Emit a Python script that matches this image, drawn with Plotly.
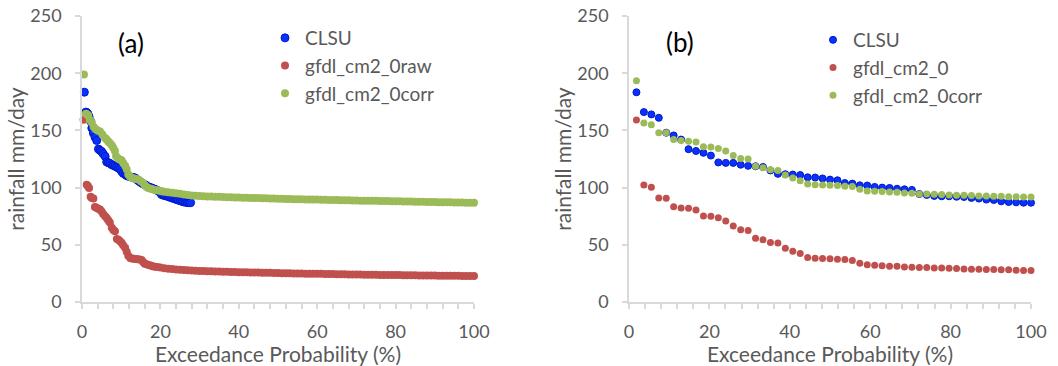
import plotly.graph_objects as go

# ---------------- Panel (a) data ----------------
a_clsu_x = [0.6, 1.0, 1.2, 1.5, 1.8, 2.2, 2.5, 2.9, 3.3, 3.75, 4.2, 4.6, 5.0, 5.4, 5.9, 6.3, 6.7, 7.1,
            7.6, 8.0, 8.4, 8.9, 9.3, 9.7, 10.1, 10.5, 11.0, 11.4, 11.8, 12.3, 12.7, 13.1, 13.5, 14.0,
            14.4, 14.8, 15.2, 15.6, 16.1, 16.5, 17.0, 17.4, 17.8, 18.2, 18.6, 19.0, 19.5, 20.0, 20.3,
            20.8, 21.2, 21.7, 22.1, 22.5, 22.9, 23.4, 23.8, 24.2, 24.6, 25.1, 25.5, 25.9, 26.4, 26.8,
            27.2, 27.7]
a_clsu_y = [183.4, 166, 165.6, 164.5, 162, 158, 152, 147.7, 144.2, 141.2, 133.7, 132.5, 131.6, 129.5,
            127.3, 122.5, 121.8, 121.2, 120, 119.5, 118.6, 118, 117, 116, 114.2, 112.5, 111.5, 110.5,
            110, 109.5, 109, 108.8, 108.5, 107, 106, 105, 104.1, 103.2, 102.5, 101.5, 100.5, 100,
            99.7, 99, 98.5, 97.8, 97, 95.5, 93.9, 93.3, 92.9, 92.5, 92, 91.5, 91, 90.5, 90, 89.5,
            89, 88.5, 88, 87.5, 87.2, 87, 86.9, 86.8]

a_raw_x = [0.4, 1.2, 1.5, 1.8, 2.2, 2.5, 2.9, 3.3, 3.7, 4.1, 4.6, 5.0, 5.4, 5.9, 6.3, 6.7, 7.1, 7.6,
           8.0, 8.4, 8.9, 9.3, 9.7, 10.1, 10.5, 11.0, 11.4, 11.8, 12.3, 12.7, 13.2, 13.7, 14.2, 14.7,
           15.2, 15.6, 16.0, 16.5, 17.0, 17.5, 18.0, 18.6, 19.2, 20, 21, 22, 23, 24, 25, 26, 27, 28,
           29, 30, 31, 32, 33, 34, 35, 36, 37, 38, 39, 40, 41, 42, 43, 44, 45, 46, 47, 48, 49, 50,
           51, 52, 53, 54, 55, 56, 57, 58, 59, 60, 61, 62, 63, 64, 65, 66, 67, 68, 69, 70, 71, 72,
           73, 74, 75, 76, 77, 78, 79, 80, 81, 82, 83, 84, 85, 86, 87, 88, 89, 90, 91, 92, 93, 94,
           95, 96, 97, 98, 99, 100]
a_raw_y = [159.3, 102.6, 101.5, 99.7, 92, 91, 90.5, 83, 82.3, 81.5, 80.8, 79, 77, 75, 73.5, 71.5,
           69.5, 64.9, 63, 61.9, 55, 54.5, 53, 51.8, 49.5, 47.4, 44, 40.5, 38.5, 38, 37.8, 37.6,
           37.4, 37.2, 36.8, 35, 33.5, 32.9, 32.3, 31.8, 31.3, 30.9, 30.6, 30.1, 29.6, 29.1, 28.8,
           28.4, 28.1, 27.9, 27.7, 27.5,
           27.4, 27.2, 27.0, 26.9, 26.8, 26.7, 26.6, 26.5, 26.4, 26.3, 26.2, 26.1, 26.0, 25.9, 25.8,
           25.8, 25.7, 25.6, 25.5, 25.5, 25.4, 25.3, 25.2, 25.2, 25.1, 25.0, 25.0, 24.9, 24.8, 24.8,
           24.7, 24.6, 24.6, 24.5, 24.4, 24.4, 24.3, 24.3, 24.2, 24.1, 24.1, 24.0, 24.0, 23.9, 23.9,
           23.8, 23.8, 23.7, 23.7, 23.6, 23.6, 23.5, 23.5, 23.4, 23.4, 23.3, 23.3, 23.2, 23.2, 23.2,
           23.1, 23.1, 23.0, 23.0, 23.0, 22.9, 22.9, 22.9, 22.8, 22.8, 22.8, 22.7]

a_corr_x = [0.5, 1.0, 1.3, 1.6, 2.0, 2.5, 3.0, 3.5, 4.0, 4.6, 5.2, 5.9, 6.3, 6.7, 7.1, 7.6, 8.0, 8.4,
            8.7, 9.2, 9.6, 10.1, 10.5, 11.0, 11.4, 11.8, 12.3, 12.8, 13.3, 13.8, 14.4, 15.0, 15.6,
            16.0, 16.5, 16.9, 17.5, 18.0, 18.6, 19.2, 19.8, 20.3, 21, 22, 23, 24, 25, 26, 27, 28,
            29, 30, 31, 32, 33, 34, 35, 36, 37, 38, 39, 40, 41, 42, 43, 44, 45, 46, 47, 48, 49, 50,
            51, 52, 53, 54, 55, 56, 57, 58, 59, 60, 61, 62, 63, 64, 65, 66, 67, 68, 69, 70, 71, 72,
            73, 74, 75, 76, 77, 78, 79, 80, 81, 82, 83, 84, 85, 86, 87, 88, 89, 90, 91, 92, 93, 94,
            95, 96, 97, 98, 99, 100]
a_corr_y = [198.8, 164.5, 164, 163, 159, 157, 153, 151, 150, 149, 146.5, 143.3, 142, 140.4, 139, 137,
            134.6, 132, 127.5, 125.5, 124.5, 124, 121.5, 119, 116, 111.5, 109.5, 108.5, 108, 107.5,
            107, 105.5, 104, 102, 100.5, 99.7, 99, 98.5, 98, 97.6, 97.2, 96.8, 96.4, 95.9, 95.5,
            95.1, 94.6, 94.0, 93.5, 93.1,
            92.8, 92.6, 92.5, 92.3, 92.2, 92.0, 91.9, 91.8, 91.6, 91.5, 91.4, 91.3, 91.2, 91.1, 91.0,
            90.9, 90.8, 90.7, 90.6, 90.5, 90.4, 90.3, 90.2, 90.1, 90.0, 89.9, 89.9, 89.8, 89.7, 89.6,
            89.5, 89.5, 89.4, 89.3, 89.2, 89.2, 89.1, 89.0, 88.9, 88.9, 88.8, 88.7, 88.6, 88.6, 88.5,
            88.4, 88.4, 88.3, 88.2, 88.2, 88.1, 88.0, 88.0, 87.9, 87.8, 87.8, 87.7, 87.6, 87.6, 87.5,
            87.4, 87.4, 87.3, 87.2, 87.2, 87.1, 87.0, 87.0, 86.9, 86.8, 86.8, 86.7]

# ---------------- Panel (b) data ----------------
b_x = [round(i * 100 / 54, 2) for i in range(1, 55)]
b_clsu = [183.3, 166, 164, 161, 148, 145.6, 142, 133.6, 132, 130.4, 128, 122, 121.6, 121.6, 120,
          119, 118.7, 118, 115, 112, 111.7, 111.4, 111, 109, 108.8, 108, 107, 106.4, 104, 103.5,
          102, 101.8, 100.6, 100, 99.7, 99, 98.5, 98, 94.4, 93.6, 92.7, 92.4, 92.4, 92, 91.8, 91,
          90.4, 89.5, 89.2, 88, 87.4, 87.1, 86.8, 86.8]
b_raw = [159, 102.3, 100.3, 91, 90.6, 83.3, 82.2, 81.9, 80.4, 75.1, 74.9, 73.7, 70.8, 66.4, 63.2,
         62.6, 55.8, 54.4, 52, 51.5, 47, 44.4, 42.4, 38.9, 38.3, 38, 37.7, 37.4, 37.1, 36.3, 33.9,
         32.5, 32.2, 31.6, 31.3, 31.3, 30.7, 30.4, 30.1, 30.1, 29.8, 29.8, 29.5, 29.2, 28.9, 28.7,
         28.7, 28.4, 28.4, 28.1, 28.1, 27.8, 27.5, 27.5]
b_corr = [193.3, 156.4, 155, 148, 148, 142, 141.2, 140.6, 139.8, 135.7, 135.4, 134.2, 131.9, 128,
          125.4, 124.9, 118.7, 117.3, 115.5, 115, 111, 108.5, 106, 103.2, 102.6, 102.3, 102, 101.8,
          101.2, 100.9, 98.5, 97, 96.8, 96.5, 96.2, 95.9, 95.3, 95, 94.4, 94.4, 94.2, 93.9, 93.6,
          93.3, 93.3, 93, 92.7, 92.7, 92.4, 92.4, 92.1, 92.1, 91.8, 91.8]

x_ticks = [0, 20, 40, 60, 80, 100]
y_ticks = [0, 50, 100, 150, 200, 250]
x_title = "Exceedance Probability (%)"
y_title = "rainfall mm/day"

BLUE = "#0a32ff"
BLUE_EDGE = "#0018c8"
RED = "#C0504D"
GREEN = "#9BBB59"
GRAY = "#595959"
AXIS = "#d9d9d9"
FONT = "Lato"

fig = go.Figure()

def add(x, y, name, color, xa, ya, legend, size, edge=None):
    fig.add_trace(go.Scatter(
        x=x, y=y, name=name, mode="markers", xaxis=xa, yaxis=ya, legend=legend,
        cliponaxis=False,
        marker=dict(size=size, color=color,
                    line=dict(width=1 if edge else 0, color=edge or color)),
    ))

add(a_clsu_x, a_clsu_y, "CLSU", BLUE, "x", "y", "legend", 8, BLUE_EDGE)
add(a_raw_x, a_raw_y, "gfdl_cm2_0raw", RED, "x", "y", "legend", 8)
add(a_corr_x, a_corr_y, "gfdl_cm2_0corr", GREEN, "x", "y", "legend", 8)

add(b_x, b_clsu, "CLSU", BLUE, "x2", "y2", "legend2", 7, BLUE_EDGE)
add(b_x, b_raw, "gfdl_cm2_0", RED, "x2", "y2", "legend2", 7)
add(b_x, b_corr, "gfdl_cm2_0corr", GREEN, "x2", "y2", "legend2", 7)

W, H = 1058, 366
tickfont = dict(family=FONT, size=18, color=GRAY)
titlefont = dict(family=FONT, size=21, color=GRAY)

def xaxis(domain, anchor):
    return dict(domain=domain, anchor=anchor, range=[0, 100], tickvals=x_ticks, automargin=False,
                ticks="outside", ticklen=5, tickcolor=AXIS, tickwidth=1.5,
                minor=dict(dtick=4, tick0=0, ticks="outside", ticklen=5, tickcolor=AXIS, tickwidth=1.5,
                           showgrid=False),
                showline=True, linecolor=AXIS, linewidth=1.5, showgrid=False, zeroline=False,
                tickfont=tickfont, ticklabelstandoff=8,
                title=dict(text=x_title, font=titlefont, standoff=1))

def yaxis(anchor):
    return dict(domain=[1 - 302 / H, 1 - 16 / H], anchor=anchor, range=[0, 250], tickvals=y_ticks,
                automargin=False,
                ticks="outside", ticklen=5, tickcolor=AXIS, tickwidth=1.5,
                showline=True, linecolor=AXIS, linewidth=1.5, showgrid=False, zeroline=False,
                tickfont=tickfont, ticklabelstandoff=10,
                title=dict(text=y_title, font=titlefont, standoff=0))

legend_common = dict(font=dict(family=FONT, size=19, color=GRAY), bgcolor="rgba(0,0,0,0)",
                     xanchor="left", yanchor="top", itemsizing="trace", tracegroupgap=0)

fig.update_layout(
    width=W, height=H, margin=dict(l=0, r=0, t=0, b=0),
    paper_bgcolor="white", plot_bgcolor="white",
    xaxis=xaxis([82 / W, 474 / W], "y"),
    yaxis=yaxis("x"),
    xaxis2=xaxis([629 / W, 1031 / W], "y2"),
    yaxis2=yaxis("x2"),
    legend=dict(x=265 / W, y=1 - 19 / H, **legend_common),
    legend2=dict(x=813 / W, y=1 - 21 / H, **legend_common),
    annotations=[
        dict(text="(a)", x=131 / W, y=1 - 43 / H, xref="paper", yref="paper", showarrow=False,
             xanchor="center", yanchor="middle",
             font=dict(family=FONT, size=26, color="black")),
        dict(text="(b)", x=680 / W, y=1 - 42 / H, xref="paper", yref="paper", showarrow=False,
             xanchor="center", yanchor="middle",
             font=dict(family=FONT, size=26, color="black")),
    ],
)

fig.write_html("out.html", config={"displayModeBar": False},
               post_script="document.body.style.margin='0';")
